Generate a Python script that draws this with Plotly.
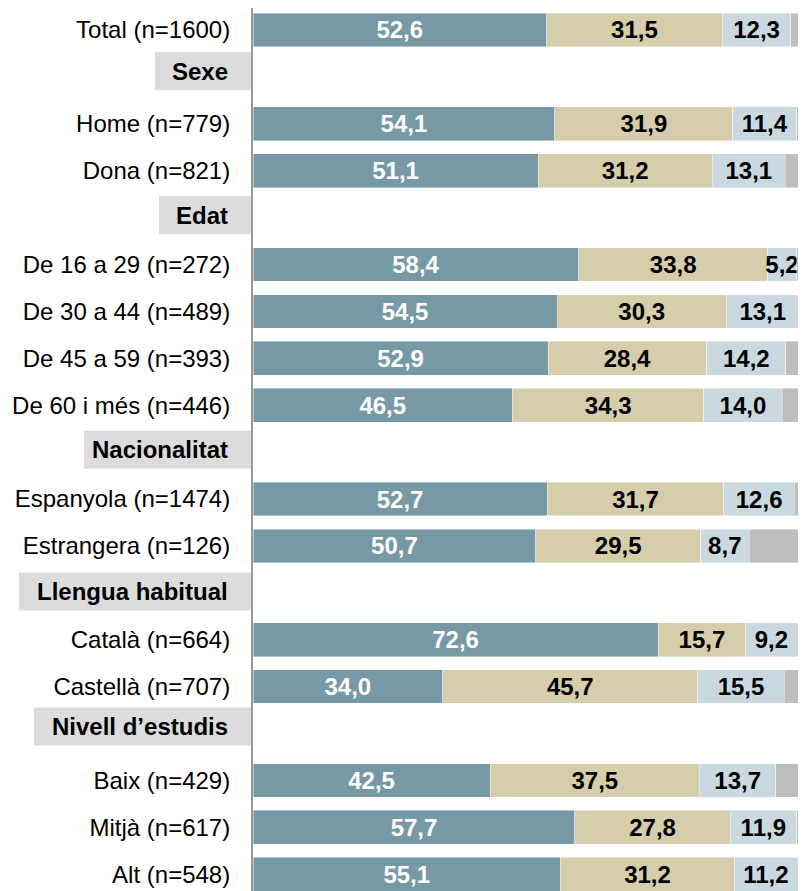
import plotly.graph_objects as go

# ---- data ----
categories = ["Total (n=1600)", "Sexe", "Home (n=779)", "Dona (n=821)", "Edat",
              "De 16 a 29 (n=272)", "De 30 a 44 (n=489)", "De 45 a 59 (n=393)",
              "De 60 i més (n=446)", "Nacionalitat", "Espanyola (n=1474)",
              "Estrangera (n=126)", "Llengua habitual", "Català (n=664)",
              "Castellà (n=707)", "Nivell d’estudis", "Baix (n=429)",
              "Mitjà (n=617)", "Alt (n=548)"]
headers = ["Sexe", "Edat", "Nacionalitat", "Llengua habitual", "Nivell d’estudis"]

serie1 = [52.6, None, 54.1, 51.1, None, 58.4, 54.5, 52.9, 46.5, None, 52.7, 50.7,
          None, 72.6, 34.0, None, 42.5, 57.7, 55.1]
serie2 = [31.5, None, 31.9, 31.2, None, 33.8, 30.3, 28.4, 34.3, None, 31.7, 29.5,
          None, 15.7, 45.7, None, 37.5, 27.8, 31.2]
serie3 = [12.3, None, 11.4, 13.1, None, 5.2, 13.1, 14.2, 14.0, None, 12.6, 8.7,
          None, 9.2, 15.5, None, 13.7, 11.9, 11.2]
serie4 = [3.6, None, 2.6, 4.6, None, 2.6, 2.1, 4.5, 5.2, None, 3.0, 11.1,
          None, 2.5, 4.8, None, 6.3, 2.6, 2.5]

# ---- style ----
FONT = "Liberation Sans, Arial, sans-serif"
FS = 24
colors = ["#7699A5", "#D6CDAB", "#C9D9DF", "#BEBEBE"]
text_colors = ["white", "black", "black", None]

fig = go.Figure()
for vals, col, tcol in zip([serie1, serie2, serie3, serie4], colors, text_colors):
    kw = {}
    if tcol:
        kw = dict(texttemplate="<b>%{x:.1f}</b>", textposition="inside",
                  insidetextanchor="middle", textangle=0, constraintext="none",
                  insidetextfont=dict(family=FONT, size=FS, color=tcol))
    fig.add_trace(go.Bar(y=categories, x=vals, orientation="h", width=0.72,
                         marker=dict(color=col, line=dict(color="rgba(255,255,255,0.7)", width=0.6)),
                         showlegend=False, hoverinfo="skip", **kw))

ticktext = ["" if c in headers else c for c in categories]

# header boxes: left edge px (from plot left), vertical shift in slot units
box_left_px = {"Sexe": 98, "Edat": 94, "Nacionalitat": 169,
               "Llengua habitual": 234, "Nivell d’estudis": 219}
box_dy = {"Sexe": -0.12, "Edat": -0.05, "Nacionalitat": -0.05,
          "Llengua habitual": -0.03, "Nivell d’estudis": -0.15}

shapes = []
annotations = []
for h in headers:
    i = categories.index(h)
    shapes.append(dict(type="rect", xref="paper", yref="y", xsizemode="pixel", xanchor=0,
                       x0=-box_left_px[h], x1=-2,
                       y0=i - 0.405 + box_dy[h], y1=i + 0.405 + box_dy[h],
                       fillcolor="#DCDCDC", line=dict(width=0), layer="below"))
    annotations.append(dict(xref="paper", yref="y", x=0, y=i + box_dy[h], xanchor="right",
                            xshift=-23, yanchor="middle", showarrow=False,
                            text="<b>" + h + "</b>",
                            font=dict(family=FONT, size=FS, color="black")))

# page body has an 8px margin: figure is 8px smaller and shifted accordingly
fig.update_layout(
    width=798, height=883,
    margin=dict(l=245, r=0, t=0, b=0),
    barmode="stack", bargap=0.28,
    separators=",.",
    plot_bgcolor="white", paper_bgcolor="white",
    font=dict(family=FONT, size=FS, color="black"),
    shapes=shapes, annotations=annotations,
    xaxis=dict(range=[0, 99.1], visible=False, fixedrange=True),
    yaxis=dict(range=[18.358, -0.469], tickvals=categories, ticktext=ticktext,
               showline=True, linecolor="#999999", linewidth=2, ticks="",
               ticklabelstandoff=16, showgrid=False, zeroline=False,
               tickfont=dict(family=FONT, size=FS, color="black")),
)

fig.write_html("out.html")
